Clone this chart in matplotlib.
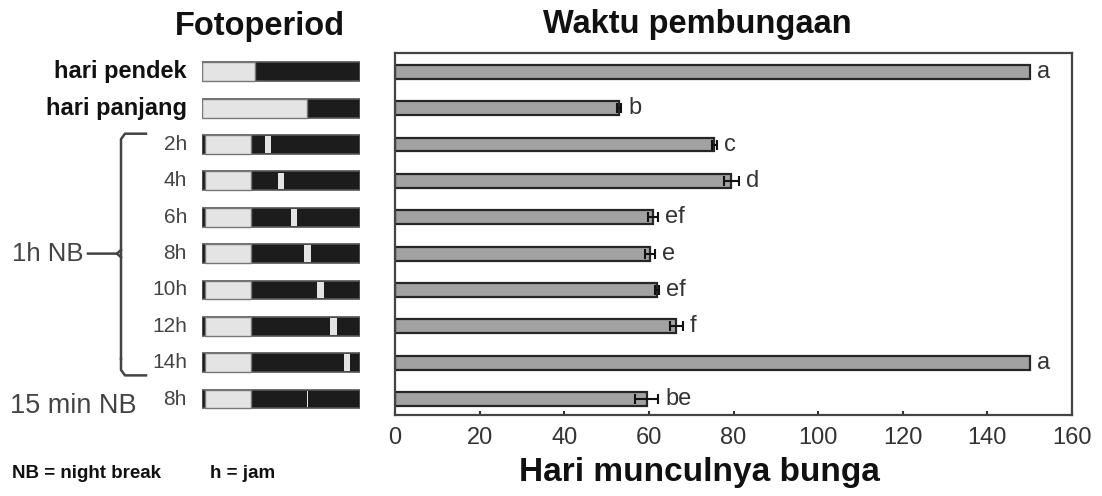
import matplotlib
matplotlib.use("Agg")
import matplotlib.pyplot as plt
import matplotlib.transforms as mtransforms
from matplotlib.lines import Line2D
from matplotlib.patches import Rectangle

plt.rcParams['font.family'] = ['Liberation Sans', 'DejaVu Sans']

# ---------------- data ----------------
row_labels = ["hari pendek", "hari panjang", "2h", "4h", "6h", "8h", "10h", "12h", "14h", "8h"]
days_to_flower = [150, 53, 75.5, 79.5, 61, 60.3, 62, 66.5, 150, 59.5]
days_err = [0, 0.5, 0.5, 1.7, 1.2, 1.2, 0.5, 1.5, 0, 2.7]
sig_letters = ["a", "b", "c", "d", "ef", "e", "ef", "f", "a", "be"]
light_start = [0, 0, 0.4, 0.4, 0.4, 0.4, 0.4, 0.4, 0.4, 0.4]
light_end = [8, 16, 7.4, 7.4, 7.4, 7.4, 7.4, 7.4, 7.4, 7.4]
nb_after_dusk = [None, None, 2, 4, 6, 8, 10, 12, 14, 8]
nb_duration = [0, 0, 1, 1, 1, 1, 1, 1, 1, 0.25]
x_ticks = [0, 20, 40, 60, 80, 100, 120, 140, 160]
day_length = 24
dusk = 8

W, H = 1102, 496
fig = plt.figure(figsize=(W / 100, H / 100), dpi=100)

def fx(px):
    return px / W

def fy(py):
    return 1 - py / H

n = len(row_labels)
ax_bottom_px, ax_top_px = 415, 53
ylim = (n - 1 + 0.44, -0.52)

# ---------------- main axes ----------------
ax = fig.add_axes([fx(395), fy(ax_bottom_px), fx(1072) - fx(395), fy(ax_top_px) - fy(ax_bottom_px)])
ypos = list(range(n))
ax.barh(ypos, days_to_flower, height=0.38, color="#a2a2a2", edgecolor="#262626", linewidth=1.6)
err_rows = [i for i in range(n) if days_err[i] > 0]
ax.errorbar([days_to_flower[i] for i in err_rows], err_rows,
            xerr=[days_err[i] for i in err_rows], fmt="none",
            ecolor="#111111", elinewidth=1.5, capsize=3.5, capthick=1.5)
for i in range(n):
    ax.annotate(sig_letters[i], xy=(days_to_flower[i] + days_err[i], i),
                xytext=(5, 0), textcoords="offset points",
                ha="left", va="center", fontsize=17, color="#333333")
ax.set_xlim(0, 160)
ax.set_ylim(*ylim)
ax.set_xticks(x_ticks)
ax.set_xticklabels([str(t) for t in x_ticks], fontsize=17, color="#333333")
ax.set_yticks([])
ax.tick_params(axis="x", direction="in", length=3, width=1.5, color="#333333", pad=9)
for s in ax.spines.values():
    s.set_color("#444444")
    s.set_linewidth(1.6)

# ---------------- photoperiod panel ----------------
ax2 = fig.add_axes([fx(202), fy(ax_bottom_px), fx(360) - fx(202), fy(ax_top_px) - fy(ax_bottom_px)])
ax2.set_xlim(0, day_length)
ax2.set_ylim(*ylim)
ax2.axis("off")
bh = 0.52
for i in range(n):
    ax2.add_patch(Rectangle((0, i - bh / 2), day_length, bh, facecolor="#1c1c1c",
                            edgecolor="#555555", linewidth=1.2))
    ax2.add_patch(Rectangle((light_start[i], i - bh / 2), light_end[i] - light_start[i], bh,
                            facecolor="#e4e4e4", edgecolor="#777777", linewidth=1.0))
    if nb_after_dusk[i] is not None:
        c = dusk + nb_after_dusk[i]
        d = nb_duration[i]
        ax2.add_patch(Rectangle((c - d / 2, i - bh / 2 + 0.03), d, bh - 0.06,
                                facecolor="#e4e4e4", edgecolor="none"))

# row labels
tr = mtransforms.blended_transform_factory(fig.transFigure, ax2.transData)
for i, lab in enumerate(row_labels):
    if i < 2:
        fig.text(fx(187), i, lab, transform=tr, ha="right", va="center",
                 fontsize=17, fontweight="bold", color="#111111")
    else:
        fig.text(fx(187), i, lab, transform=tr, ha="right", va="center",
                 fontsize=15, color="#444444")

fig.text(fx(12), 5, "1h NB", transform=tr, ha="left", va="center", fontsize=18.5, color="#444444")
fig.text(fx(10), 9.2, "15 min NB", transform=tr, ha="left", va="center", fontsize=19.5, color="#444444")

# bracket
bx, hook = fx(121), fx(146)
lc = "#444444"
fig.add_artist(Line2D([hook, bx + fx(4), bx, bx], [1.7, 1.7, 1.85, 7.9], transform=tr, color=lc, lw=1.8))
fig.add_artist(Line2D([bx, bx, bx + fx(4), hook], [7.9, 8.2, 8.35, 8.35], transform=tr, color=lc, lw=1.8))
fig.add_artist(Line2D([fx(88), fx(117), bx], [5, 5, 4.9], transform=tr, color=lc, lw=1.8))
fig.add_artist(Line2D([fx(117), bx], [5, 5.1], transform=tr, color=lc, lw=1.8))

# titles
fig.text(fx(260), fy(27), "Fotoperiod", ha="center", va="center", fontsize=23.5, fontweight="bold", color="#111111")
fig.text(fx(697), fy(25), "Waktu pembungaan", ha="center", va="center", fontsize=23.5, fontweight="bold", color="#111111")
fig.text(fx(699), fy(472), "Hari munculnya bunga", ha="center", va="center", fontsize=24, fontweight="bold", color="#111111")
fig.text(fx(12), fy(473), "NB = night break", ha="left", va="center", fontsize=13.5, fontweight="bold", color="#111111")
fig.text(fx(210), fy(473), "h = jam", ha="left", va="center", fontsize=13.5, fontweight="bold", color="#111111")

fig.savefig("out.png", dpi=100)
